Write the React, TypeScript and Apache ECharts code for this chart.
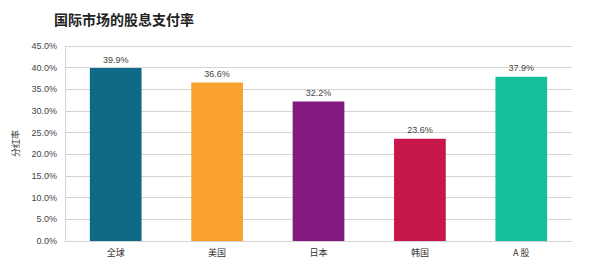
import React, { useEffect, useRef } from "react";
import * as echarts from "echarts";

const categories = ["全球", "美国", "日本", "韩国", "A 股"];
const payoutRates = [39.9, 36.6, 32.2, 23.6, 37.9];
const barColors = ["#0E6A87", "#F9A12E", "#84197F", "#C8174A", "#14BF9C"];

export default function App() {
  const ref = useRef<HTMLDivElement>(null);
  useEffect(() => {
    const chart = echarts.init(ref.current!, null, { renderer: "svg" });
    chart.setOption({
      animation: false,
      title: {
        text: "国际市场的股息支付率",
        left: 49,
        top: 7,
        textStyle: { fontSize: 14, fontWeight: "bold", color: "#222", fontFamily: "Noto Sans CJK SC" },
      },
      grid: { left: 65, right: 25, top: 46, bottom: 28 },
      xAxis: {
        type: "category",
        data: categories,
        axisTick: { show: false },
        axisLine: { lineStyle: { color: "#d4d4d4" } },
        axisLabel: { fontSize: 9, color: "#333", margin: 7, fontFamily: "Noto Sans CJK SC" },
      },
      yAxis: {
        type: "value",
        min: 0,
        max: 45,
        interval: 5,
        name: "分红率",
        nameLocation: "middle",
        nameGap: 45,
        nameRotate: 90,
        nameTextStyle: { fontSize: 9, color: "#333", fontFamily: "Noto Sans CJK SC" },
        axisLine: { show: true, lineStyle: { color: "#d4d4d4" } },
        axisTick: { show: false },
        splitLine: { lineStyle: { color: "#d4d4d4" } },
        axisLabel: {
          fontSize: 9,
          color: "#444",
          margin: 8,
          fontFamily: "Liberation Sans",
          formatter: (v: number) => v.toFixed(1) + "%",
        },
      },
      series: [
        {
          type: "bar",
          barWidth: "51%",
          data: payoutRates.map((v, i) => ({ value: v, itemStyle: { color: barColors[i] } })),
          label: {
            show: true,
            position: "top",
            distance: 4,
            fontSize: 9,
            color: "#444",
            fontFamily: "Liberation Sans",
            formatter: (p: any) => p.value.toFixed(1) + "%",
          },
        },
      ],
    });
    return () => chart.dispose();
  }, []);
  return <div ref={ref} style={{ width: 597, height: 269, position: "absolute", left: 0, top: 0 }} />;
}
